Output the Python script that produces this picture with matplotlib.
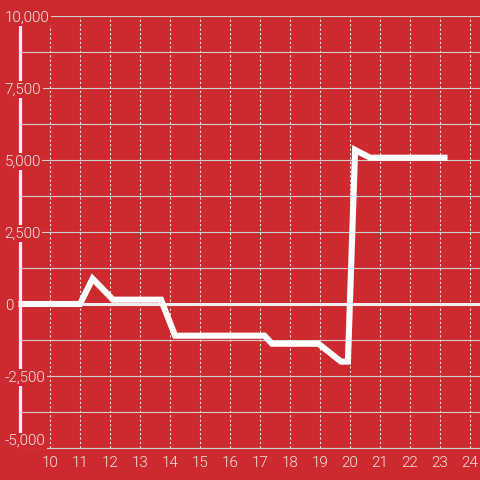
import matplotlib
matplotlib.use('Agg')
import matplotlib.pyplot as plt

# data
hours = [8.95, 11.0, 11.42, 12.1, 13.7, 14.17, 17.15, 17.4, 18.95, 19.7, 19.93, 20.17, 20.67, 23.25]
values = [0, 0, 880, 150, 150, -1100, -1100, -1380, -1380, -2000, -2000, 5350, 5080, 5080]

x_ticks = list(range(10, 25))
y_labelled = [-5000, -2500, 0, 2500, 5000, 7500, 10000]
y_grid = [-5000 + 1250 * i for i in range(13)]

bg = '#cc2a2e'
txt = '#f5e4e4'

plt.rcParams['font.family'] = ['Roboto', 'DejaVu Sans']
plt.rcParams['font.weight'] = 300

fig = plt.figure(figsize=(4.8, 4.8), dpi=100, facecolor=bg)
ax = fig.add_axes([20 / 480, 32 / 480, 460 / 480, 432 / 480])
ax.set_facecolor(bg)
ax.set_xlim(9, 24.333)
ax.set_ylim(-5000, 10000)
ax.set_axisbelow(False)

# horizontal grid (solid) and vertical grid (dotted)
ax.set_yticks(y_grid)
ax.set_yticklabels([f'{v:,}' if v in y_labelled else '' for v in y_grid])
ax.yaxis.grid(True, color='#cfcfcf', lw=0.8)
ax.set_xticks(x_ticks)
ax.xaxis.grid(True, color='#e8e8e8', lw=0.8, ls=(0, (2, 2)))

ax.tick_params(axis='y', length=0, pad=11, labelsize=11, labelcolor=txt)
ax.tick_params(axis='x', length=0, pad=6, labelsize=11, labelcolor=txt)
for lbl in ax.get_yticklabels():
    lbl.set_horizontalalignment('left')
    lbl.set_bbox(dict(facecolor=bg, edgecolor='none', pad=1.0))
ax.get_yticklabels()[0].set_verticalalignment('bottom')

for s in ['top', 'right']:
    ax.spines[s].set_visible(False)
ax.spines['bottom'].set_color('#cfcfcf')
ax.spines['bottom'].set_linewidth(0.8)
ax.spines['left'].set_color('#f2f2f2')
ax.spines['left'].set_linewidth(2.3)
ax.spines['left'].set_bounds(-4750, 9750)

ax.axhline(0, color='#eeeeee', lw=2.2, zorder=2.6)
ax.plot(hours, values, color='white', lw=4.4, solid_joinstyle='miter',
        solid_capstyle='butt', zorder=3, clip_on=False)

fig.savefig('out.png', dpi=100, facecolor=bg)
